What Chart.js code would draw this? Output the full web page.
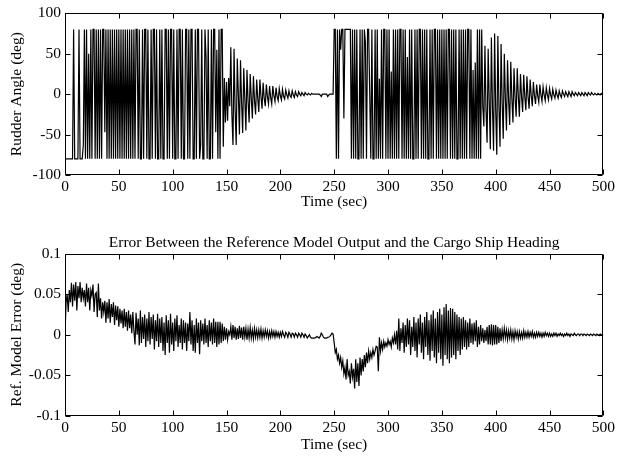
<!DOCTYPE html>
<html>
<head>
<meta charset="utf-8">
<title>Cargo ship rudder angle and reference model error</title>
<script src="https://cdn.jsdelivr.net/npm/chart.js@4.4.1/dist/chart.umd.min.js"></script>
<style>
  html, body { margin: 0; padding: 0; background: #fff; }
  #wrap { position: relative; width: 618px; height: 459px; }
  canvas { position: absolute; left: 0; }
  #rudderChart { top: 0; }
  #errorChart { top: 220px; }
</style>
</head>
<body>
<div id="wrap">
  <canvas id="rudderChart" width="618" height="220"></canvas>
  <canvas id="errorChart" width="618" height="239"></canvas>
</div>
<script>
// sample spacing of both traces (sec)
const timeStep = 1;

// tick positions
const timeTicks = [0, 50, 100, 150, 200, 250, 300, 350, 400, 450, 500];
const rudderTicks = [-100, -50, 0, 50, 100];
const errorTicks = [-0.1, -0.05, 0, 0.05, 0.1];

// rudder angle (deg), one value per second, t = 0..500
const rudderAngle = [
  -80,-80,-80,-80,-80,-80,-80,-80,80,-80,      // 0
  -80,-80,-80,80,-80,-80,-80,-63,80,-80,
  80,-80,50,-80,80,-80,80,80,-80,80,
  -80,80,-80,80,-80,80,80,-47,80,-80,
  80,-80,80,-80,80,-80,80,-80,80,-80,
  80,-80,80,-80,80,-80,80,-80,80,-80,          // 50
  80,-80,80,-80,80,-80,80,80,-80,80,
  -80,-80,80,-80,80,80,-80,80,-80,-80,
  80,-80,80,80,-80,80,-80,-80,80,-80,
  80,-80,-80,80,80,-80,80,-80,80,80,
  -80,80,-80,-80,80,-80,80,80,-80,80,          // 100
  -80,-80,80,80,-80,80,-80,80,80,-80,
  -80,80,-80,80,80,-80,-63,80,-80,-80,
  80,45,-80,80,-80,-80,80,-80,80,80,
  -47,55,-80,80,-80,80,80,-65,20,-35,
  15,-33,20,-15,58,-25,-63,56,-20,-63,         // 150
  44,0,-50,42,-10,-48,32,-5,-45,30,
  -8,-35,25,-5,-30,22,-8,-25,18,-5,
  -22,18,-3,-18,14,-5,-15,12,-3,-12,
  10,-4,-12,10,-2,-9,8,-3,-8,7,
  -2,-7,6,-3,-6,5,-1,-5,4,-2,                  // 200
  -4,4,-1,-4,3,-1,-3,3,0,-2,
  2,0,-2,2,0,-1,1,0,-1,1,
  0,0,0,0,0,0,0,-1,-3,0,
  0,0,0,0,-3,-1,0,0,0,0,
  80,80,-80,80,-80,80,55,80,80,-30,            // 250
  80,80,80,80,80,80,-80,80,-80,80,
  -80,80,-80,-80,80,-80,80,-80,80,64,
  -80,80,80,0,-80,80,-80,-80,80,-80,
  80,-80,19,-80,80,-80,80,80,-80,80,
  -80,80,-80,28,-80,80,-80,80,-80,80,          // 300
  -80,80,80,-80,80,-80,80,-80,46,-80,
  80,-80,80,-80,-80,80,-80,80,-80,80,
  80,-80,80,-80,80,-80,80,-80,-80,80,
  -80,80,-80,80,80,-80,80,-80,80,-80,
  80,-80,80,-80,80,-80,80,80,-80,80,           // 350
  -80,80,-80,80,-80,-80,80,-80,80,-80,
  80,-80,80,-80,80,80,-80,80,-80,30,
  -80,39,-80,80,-80,80,-80,80,-15,-40,
  60,-20,-60,56,-10,-68,70,-15,-70,75,
  -20,-75,72,-15,-65,62,-10,-55,50,-5,         // 400
  -45,42,-8,-38,40,-5,-35,32,-5,-28,
  32,-3,-28,25,-3,-22,24,-3,-20,22,
  -3,-18,18,-2,-15,15,-2,-12,12,-2,
  -10,12,-1,-9,9,-1,-8,8,-1,-7,
  7,-1,-6,6,-1,-5,5,-1,-5,4,                   // 450
  -1,-4,4,0,-3,3,0,-3,3,0,
  -3,3,0,-2,2,0,-2,2,0,-2,
  2,0,-2,2,0,-2,2,0,-1,2,
  0,-1,1,0,-1,1,0,-1,1,0,
  0                                            // 500
];

// reference model error (deg), one value per second, t = 0..500
const modelError = [
  0.000,0.040,0.050,0.028,0.055,0.040,0.064,0.035,0.062,0.042,      // 0
  0.065,0.030,0.060,0.045,0.065,0.040,0.058,0.045,0.055,0.035,
  0.063,0.040,0.058,0.030,0.055,0.048,0.062,0.028,0.050,0.052,
  0.022,0.063,0.030,0.045,0.020,0.040,0.028,0.042,0.015,0.040,
  0.020,0.044,0.015,0.038,0.022,0.040,0.012,0.036,0.018,0.035,
  0.010,0.032,0.014,0.030,0.008,0.032,0.010,0.028,0.005,0.030,      // 50
  0.008,0.025,0.002,0.028,0.005,-0.012,0.027,0.000,0.020,-0.013,
  0.030,-0.010,0.022,-0.005,0.025,-0.015,0.020,-0.008,0.028,-0.012,
  0.022,-0.005,0.025,-0.018,0.018,-0.008,0.026,-0.015,0.020,-0.010,
  0.022,-0.020,0.015,-0.025,0.024,-0.010,0.018,-0.022,0.026,-0.012,
  0.015,-0.020,0.020,-0.008,0.024,-0.015,0.012,-0.010,0.020,-0.018, // 100
  0.018,-0.010,0.015,-0.020,0.014,-0.008,0.028,-0.012,0.018,-0.020,
  0.012,-0.022,0.020,-0.010,0.015,-0.024,0.018,-0.008,0.014,-0.012,
  0.020,-0.010,0.012,-0.015,0.018,-0.008,0.015,-0.012,0.020,-0.010,
  0.016,-0.015,0.016,-0.012,0.016,-0.010,0.014,-0.008,0.010,-0.006,
  0.008,-0.006,0.004,0.000,0.010,-0.006,0.012,-0.004,0.010,-0.006,  // 150
  0.008,-0.005,0.011,-0.004,0.009,-0.006,0.010,-0.003,0.008,-0.006,
  0.007,-0.004,0.009,-0.004,0.006,-0.005,0.008,-0.003,0.006,-0.004,
  0.006,-0.003,0.007,-0.004,0.005,-0.003,0.006,-0.002,0.005,-0.004,
  0.004,-0.003,0.005,-0.002,0.004,-0.003,0.004,-0.002,0.003,-0.003,
  0.003,-0.002,0.004,0.000,-0.003,0.003,0.001,-0.003,0.003,0.001,   // 200
  -0.003,0.002,0.001,-0.003,0.002,0.000,-0.003,0.002,0.000,-0.003,
  0.002,0.000,-0.003,0.001,-0.001,-0.004,-0.002,0.000,-0.003,-0.004,
  -0.004,-0.004,-0.004,-0.003,-0.002,-0.003,-0.004,-0.002,0.002,0.000,
  -0.003,-0.004,-0.004,-0.004,-0.003,-0.003,-0.002,0.000,0.002,0.001,
  -0.010,-0.022,-0.018,-0.030,-0.025,-0.035,-0.028,-0.040,-0.032,-0.048, // 250
  -0.040,-0.055,-0.030,-0.050,-0.045,-0.060,-0.035,-0.052,-0.042,-0.066,
  -0.030,-0.058,-0.035,-0.063,-0.028,-0.050,-0.030,-0.045,-0.025,-0.040,
  -0.022,-0.035,-0.020,-0.030,-0.022,-0.028,-0.018,-0.025,-0.020,-0.014,
  -0.015,-0.045,-0.003,-0.020,-0.010,-0.018,-0.008,-0.015,-0.010,-0.014,
  -0.006,-0.012,-0.008,-0.015,-0.004,-0.010,0.000,-0.012,0.005,-0.018,   // 300
  0.020,-0.020,0.008,-0.010,0.015,-0.022,0.012,-0.015,0.020,-0.012,
  0.018,-0.025,0.010,-0.015,0.022,-0.020,0.015,-0.028,0.020,-0.012,
  0.025,-0.022,0.015,-0.030,0.022,-0.015,0.028,-0.025,0.018,-0.032,
  0.025,-0.020,0.030,-0.028,0.020,-0.035,0.028,-0.022,0.032,-0.030,
  0.025,-0.038,0.034,-0.025,0.038,-0.030,0.030,-0.035,0.033,-0.028, // 350
  0.032,-0.025,0.028,-0.030,0.025,-0.020,0.022,-0.025,0.020,-0.018,
  0.022,-0.015,0.018,-0.018,0.015,-0.015,0.020,-0.010,0.014,-0.012,
  0.015,-0.008,0.018,-0.015,0.010,-0.012,0.012,-0.008,0.008,-0.010,
  0.006,-0.008,0.010,-0.012,0.012,-0.012,0.013,-0.013,0.012,-0.012,
  0.012,-0.012,0.010,-0.010,0.008,-0.008,0.006,-0.005,0.008,-0.004, // 400
  0.006,-0.006,0.005,-0.004,0.006,-0.005,0.004,-0.006,0.005,-0.003,
  0.004,-0.005,0.004,-0.004,0.003,-0.004,0.005,-0.003,0.003,-0.003,
  0.004,-0.003,0.003,-0.002,0.004,-0.003,0.002,-0.003,0.003,-0.002,
  0.003,-0.002,0.002,-0.003,0.002,-0.002,0.003,-0.001,0.002,-0.002,
  0.002,-0.002,0.001,-0.002,0.002,-0.001,0.002,-0.002,0.001,-0.001, // 450
  0.002,-0.001,0.001,-0.002,0.001,-0.001,0.002,-0.001,0.001,-0.002,
  0.001,0.000,-0.001,0.002,0.000,-0.001,0.001,0.001,-0.001,0.001,
  0.001,-0.001,0.001,0.000,-0.001,0.001,0.000,-0.001,0.001,0.000,
  -0.001,0.001,0.000,-0.001,0.001,0.000,-0.001,0.001,0.000,0.000,
  0.000                                                             // 500
];

document.addEventListener('DOMContentLoaded', function () {

    // --- shared look: serif text, black on white ---
    const serif = '"Liberation Serif", "Times New Roman", serif';
    Chart.defaults.font.family = serif;
    Chart.defaults.font.size = 15.5;
    Chart.defaults.color = '#000';

    // MATLAB style box with inward ticks on all four sides
    const boxTicks = {
        id: 'boxTicks',
        afterDatasetsDraw(chart) {
            const { ctx, chartArea: a, scales: { x, y } } = chart;
            const L = Math.round(a.left) + 0.5, R = Math.round(a.right) - 0.5;
            const T = Math.round(a.top) + 0.5, B = Math.round(a.bottom) - 0.5;
            const len = 5;
            ctx.save();
            ctx.strokeStyle = '#000';
            ctx.lineWidth = 1;
            ctx.beginPath();
            ctx.rect(L, T, R - L, B - T);
            x.ticks.forEach(t => {
                const px = Math.round(x.getPixelForValue(t.value)) + 0.5;
                ctx.moveTo(px, B); ctx.lineTo(px, B - len);
                ctx.moveTo(px, T); ctx.lineTo(px, T + len);
            });
            y.ticks.forEach(t => {
                const py = Math.round(y.getPixelForValue(t.value)) + 0.5;
                ctx.moveTo(L, py); ctx.lineTo(L + len, py);
                ctx.moveTo(R, py); ctx.lineTo(R - len, py);
            });
            ctx.stroke();
            ctx.restore();
        }
    };

    function points(values) {
        return values.map((v, i) => ({ x: i * timeStep, y: v }));
    }

    function makeChart(id, opts) {
        return new Chart(document.getElementById(id), {
            type: 'line',
            data: {
                datasets: [{
                    data: points(opts.values),
                    borderColor: '#000',
                    borderWidth: 1.2,
                    pointRadius: 0,
                    tension: 0,
                    fill: false
                }]
            },
            options: {
                responsive: false,
                animation: false,
                events: [],
                layout: { padding: opts.padding },
                plugins: {
                    legend: { display: false },
                    tooltip: { enabled: false },
                    title: opts.title
                },
                scales: {
                    x: {
                        type: 'linear',
                        min: 0, max: 500,
                        grid: { display: false, drawTicks: false },
                        border: { display: false },
                        afterBuildTicks: s => { s.ticks = timeTicks.map(v => ({ value: v })); },
                        afterFit: s => { s.height = opts.xHeight; },
                        ticks: { padding: 3, maxRotation: 0, callback: v => String(v) },
                        title: { display: true, text: 'Time (sec)', padding: { top: 0, bottom: opts.xTitlePad } }
                    },
                    y: {
                        type: 'linear',
                        min: opts.yTicks[0], max: opts.yTicks[opts.yTicks.length - 1],
                        grid: { display: false, drawTicks: false },
                        border: { display: false },
                        afterBuildTicks: s => { s.ticks = opts.yTicks.map(v => ({ value: v })); },
                        afterFit: s => { s.width = 65; },
                        ticks: { padding: 4, callback: v => String(v) },
                        title: { display: true, text: opts.yTitle, padding: { top: 8, bottom: 0 } }
                    }
                }
            },
            plugins: [boxTicks]
        });
    }

    // --- 1. RUDDER ANGLE ---
    makeChart('rudderChart', {
        values: rudderAngle,
        yTicks: rudderTicks,
        yTitle: 'Rudder Angle (deg)',
        padding: { top: 10, right: 14, left: 0, bottom: 0 },
        xHeight: 45,
        xTitlePad: 9,
        title: { display: false }
    });

    // --- 2. REFERENCE MODEL ERROR ---
    makeChart('errorChart', {
        values: modelError,
        yTicks: errorTicks,
        yTitle: 'Ref. Model Error (deg)',
        padding: { top: 0, right: 14, left: 0, bottom: 0 },
        xHeight: 43,
        xTitlePad: 5,
        title: {
            display: true,
            fullSize: false,
            text: 'Error Between the Reference Model Output and the Cargo Ship Heading',
            font: { family: serif, size: 15.5, weight: 'normal' },
            color: '#000',
            padding: { top: 14, bottom: 1 }
        }
    });
});
</script>
</body>
</html>
